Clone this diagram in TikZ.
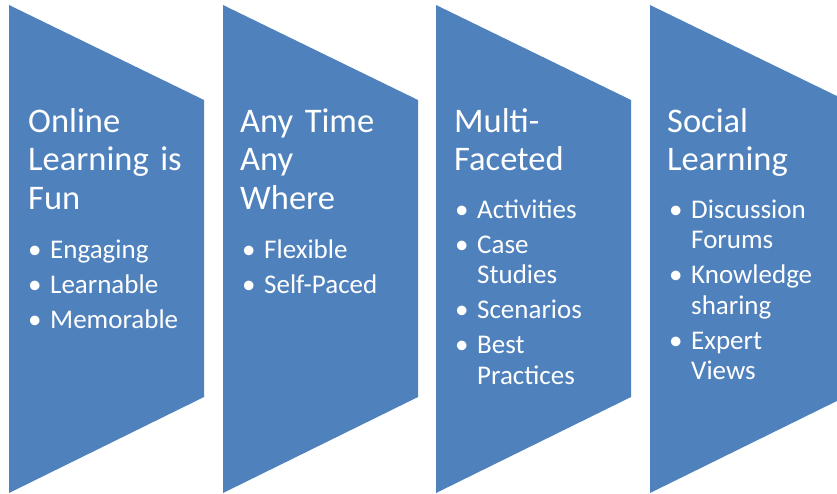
\documentclass[tikz,border=0pt]{standalone}
\usepackage{fontspec}
\setmainfont{Carlito}
\definecolor{stageblue}{HTML}{4F81BD}
\newcommand{\bitem}[1]{\noindent\hangindent=22pt\hangafter=1\makebox[22pt][l]{\textbullet}#1\par}

\begin{document}
\begin{tikzpicture}[x=1pt,y=-1pt,
    stage/.style={fill=stageblue},
    heading/.style={anchor=base west, inner sep=0pt, text=white, text width=190pt,
      font=\fontsize{34.5}{38.5}\selectfont},
    points/.style={anchor=base west, inner sep=0pt, text=white, text width=180pt,
      font=\fontsize{27}{30.5}\selectfont,
      execute at begin node=\setlength{\parskip}{4.5pt}}]
      \useasboundingbox (0,0) rectangle (837,493);
      \clip (0,0) rectangle (837,493);
      \fill[stage] (9,5) -- (204,100) -- (204,397) -- (9,493) -- cycle;
      \fill[stage] (223,5) -- (418,100) -- (418,397) -- (223,493) -- cycle;
      \fill[stage] (436,5) -- (631,100) -- (631,397) -- (436,493) -- cycle;
      \fill[stage] (650,5) -- (845,100) -- (845,397) -- (650,493) -- cycle;
      \node[heading] (title1) at (28,132) {Online\\Learning is\\Fun};
      \node[heading] (title2) at (240,132) {Any Time\\Any\\Where};
      \node[heading] (title3) at (454,132) {Multi-\\Faceted};
      \node[heading] (title4) at (667,132) {Social\\Learning};
      \node[points] (list1) at (28,258) {\bitem{Engaging}\bitem{Learnable}\bitem{Memorable}};
      \node[points] (list2) at (242,258) {\bitem{Flexible}\bitem{Self-Paced}};
      \node[points] (list3) at (455,218) {\bitem{Activities}\bitem{Case\newline Studies}
        \bitem{Scenarios}\bitem{Best\newline Practices}};
      \node[points] (list4) at (669,218) {\bitem{Discussion\newline Forums}
        \bitem{Knowledge\newline sharing}\bitem{Expert\newline Views}};
\end{tikzpicture}
\end{document}
